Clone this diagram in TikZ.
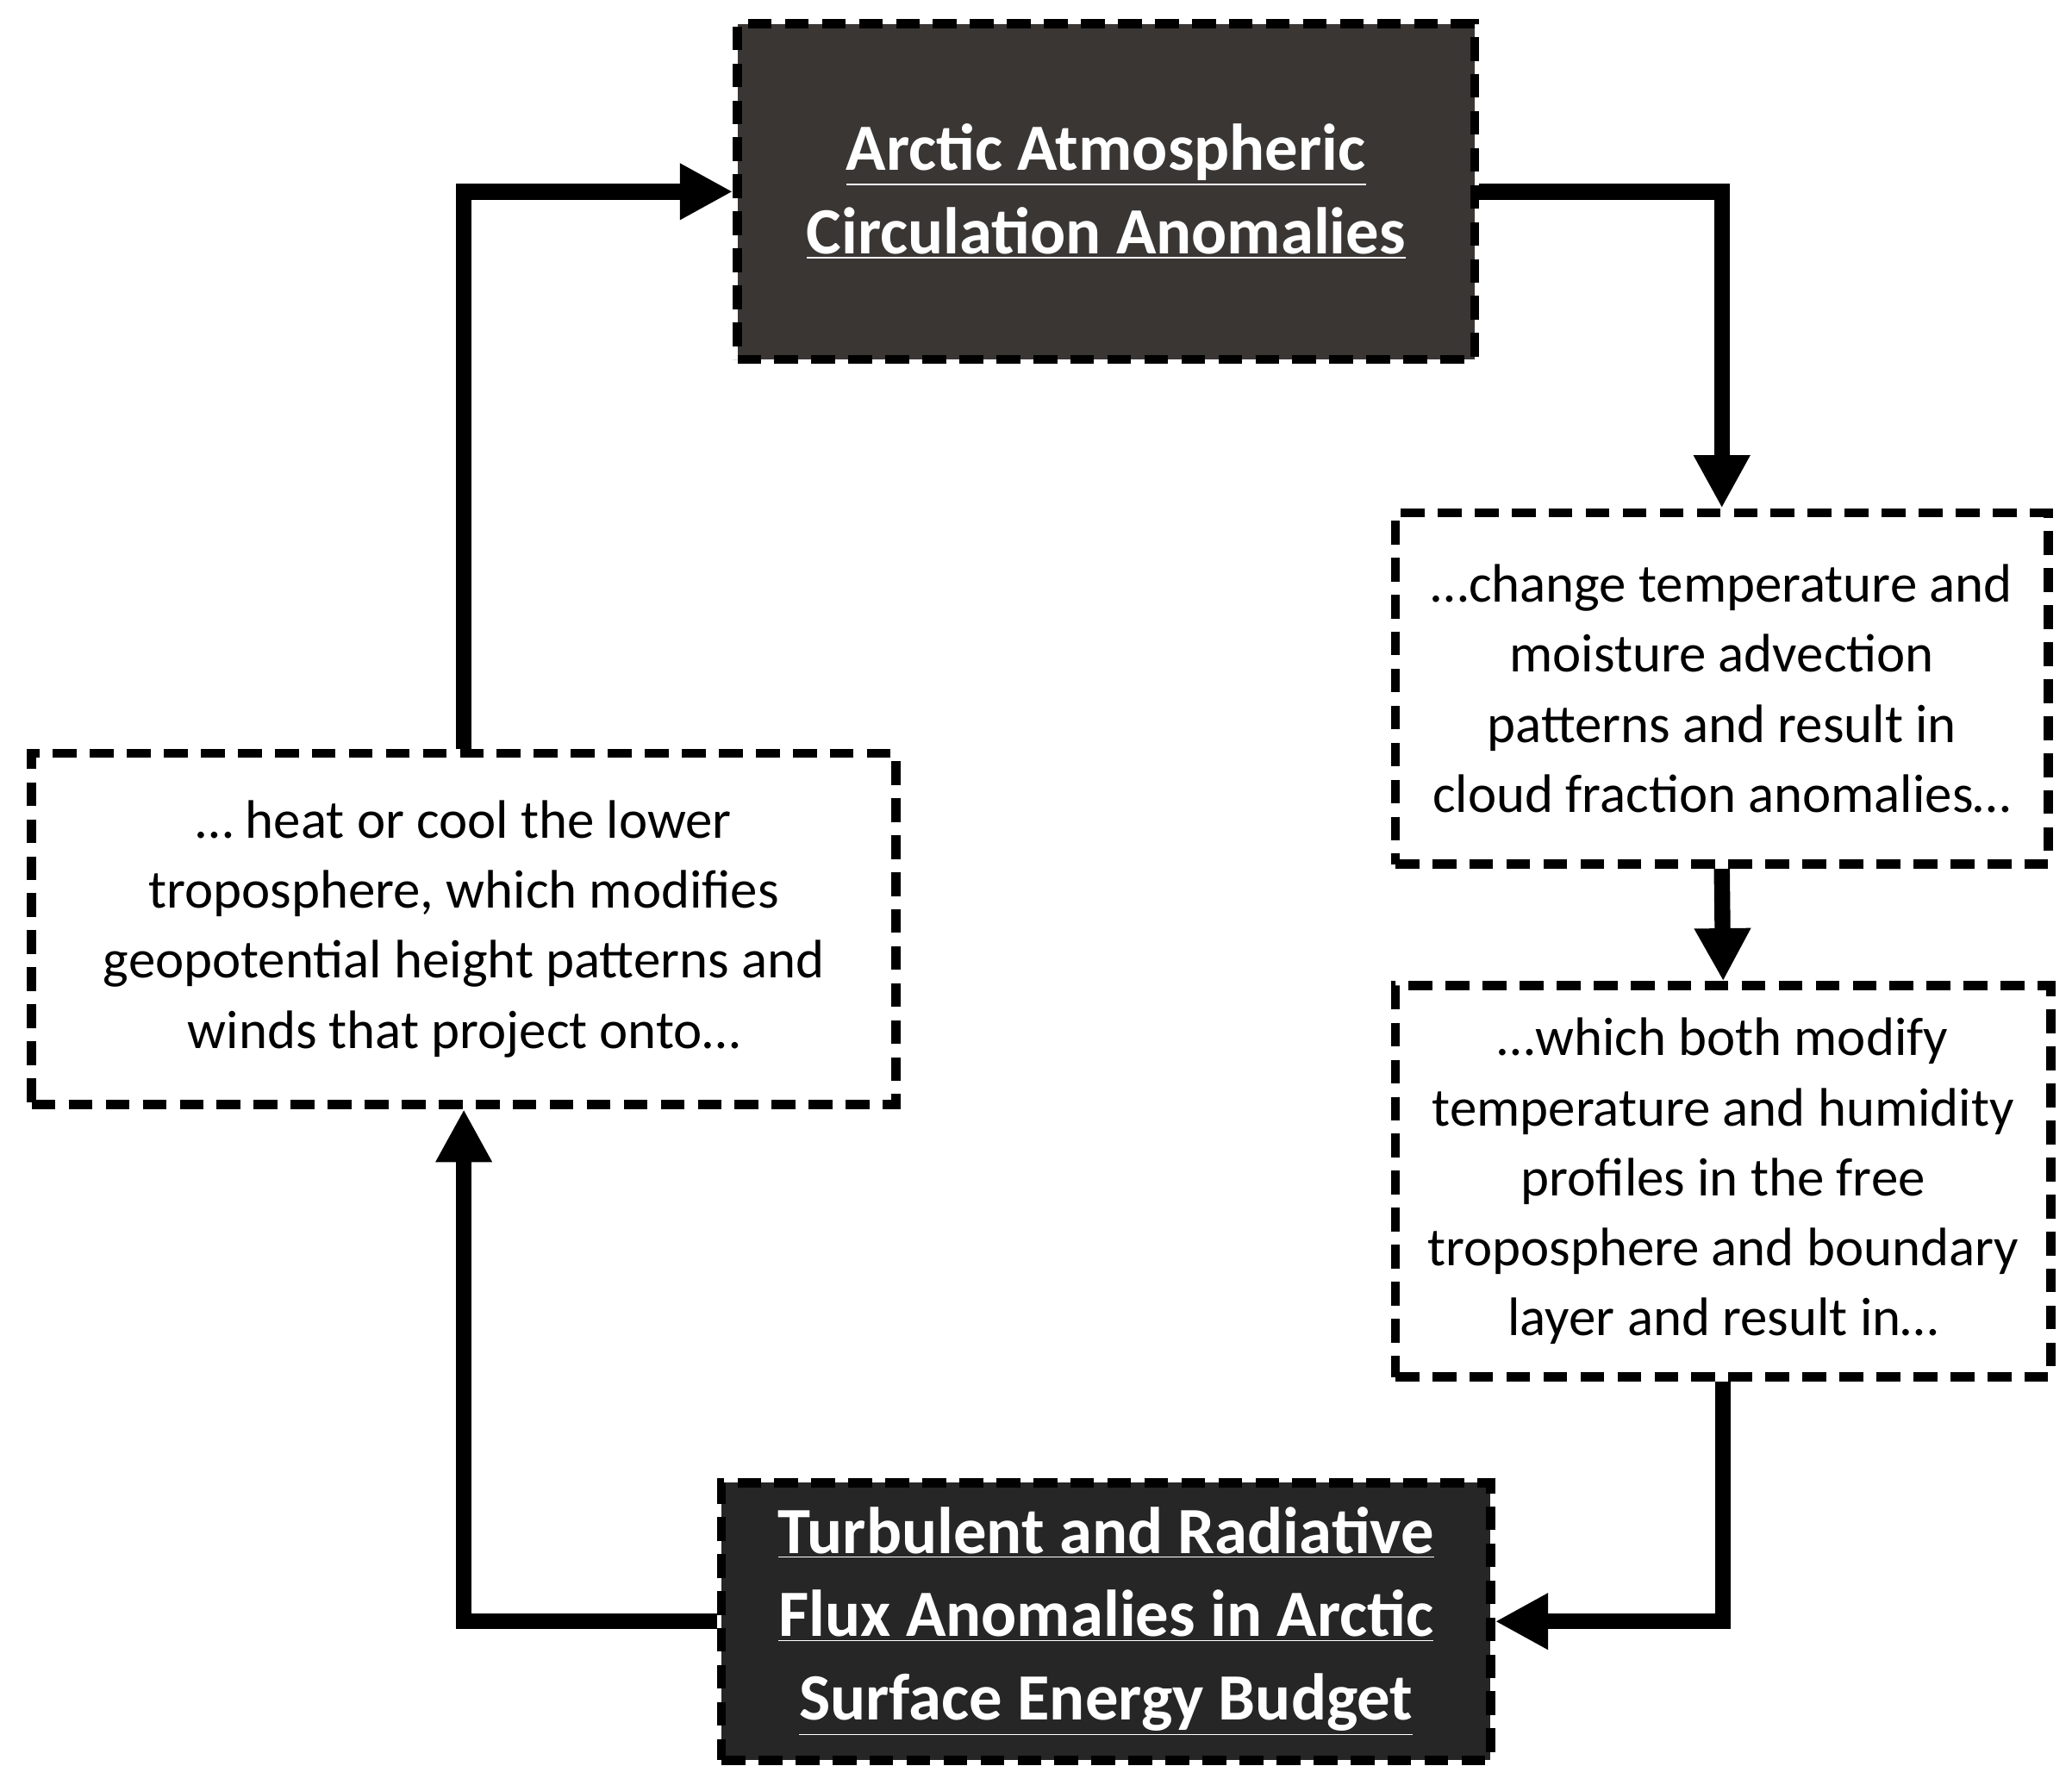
\documentclass[tikz,border=0pt]{standalone}
\usepackage{fontspec}
\setmainfont{Carlito}
\usetikzlibrary{arrows.meta}
\definecolor{darkA}{HTML}{3A3634}
\definecolor{darkB}{HTML}{262626}
\begin{document}
\begin{tikzpicture}[x=0.5pt,y=-0.5pt,
  box/.style={draw=black,line width=3.5pt,dash pattern=on 9pt off 5pt,inner sep=0pt,align=center},
  darkbox/.style={box,text=white,font=\fontsize{25}{31.5}\selectfont\bfseries},
  litebox/.style={box,fill=white,font=\fontsize{20.5}{26.5}\selectfont},
  conn/.style={line width=6pt,-{Triangle[length=20pt,width=20pt]}}]
\useasboundingbox (0,0) rectangle (1568,1355);
\node[darkbox,fill=darkA,minimum width=279pt,minimum height=127pt] (top) at (837,145)
  {\underline{Arctic Atmospheric}\\\underline{Circulation Anomalies}};
\node[litebox,minimum width=247pt,minimum height=133pt] (r1) at (1303,521)
  {…change temperature and\\moisture advection\\patterns and result in\\cloud fraction anomalies…};
\node[litebox,minimum width=248pt,minimum height=148pt] (r2) at (1304,894)
  {…which both modify\\temperature and humidity\\profiles in the free\\troposphere and boundary\\layer and result in…};
\node[darkbox,fill=darkB,minimum width=291pt,minimum height=105pt] (bot) at (837,1227)
  {\underline{Turbulent and Radiative}\\\underline{Flux Anomalies in Arctic}\\\underline{Surface Energy Budget}};
\node[litebox,minimum width=327pt,minimum height=133pt] (left) at (351,703)
  {… heat or cool the lower\\troposphere, which modifies\\geopotential height patterns and\\winds that project onto…};
\draw[conn] (top.east) -| (r1.north);
\draw[conn] (r1.south) -- (r2.north);
\draw[conn] (r2.south) |- (bot.east);
\draw[conn] (bot.west) -| (left.south);
\draw[conn] (left.north) |- (top.west);
\end{tikzpicture}
\end{document}
